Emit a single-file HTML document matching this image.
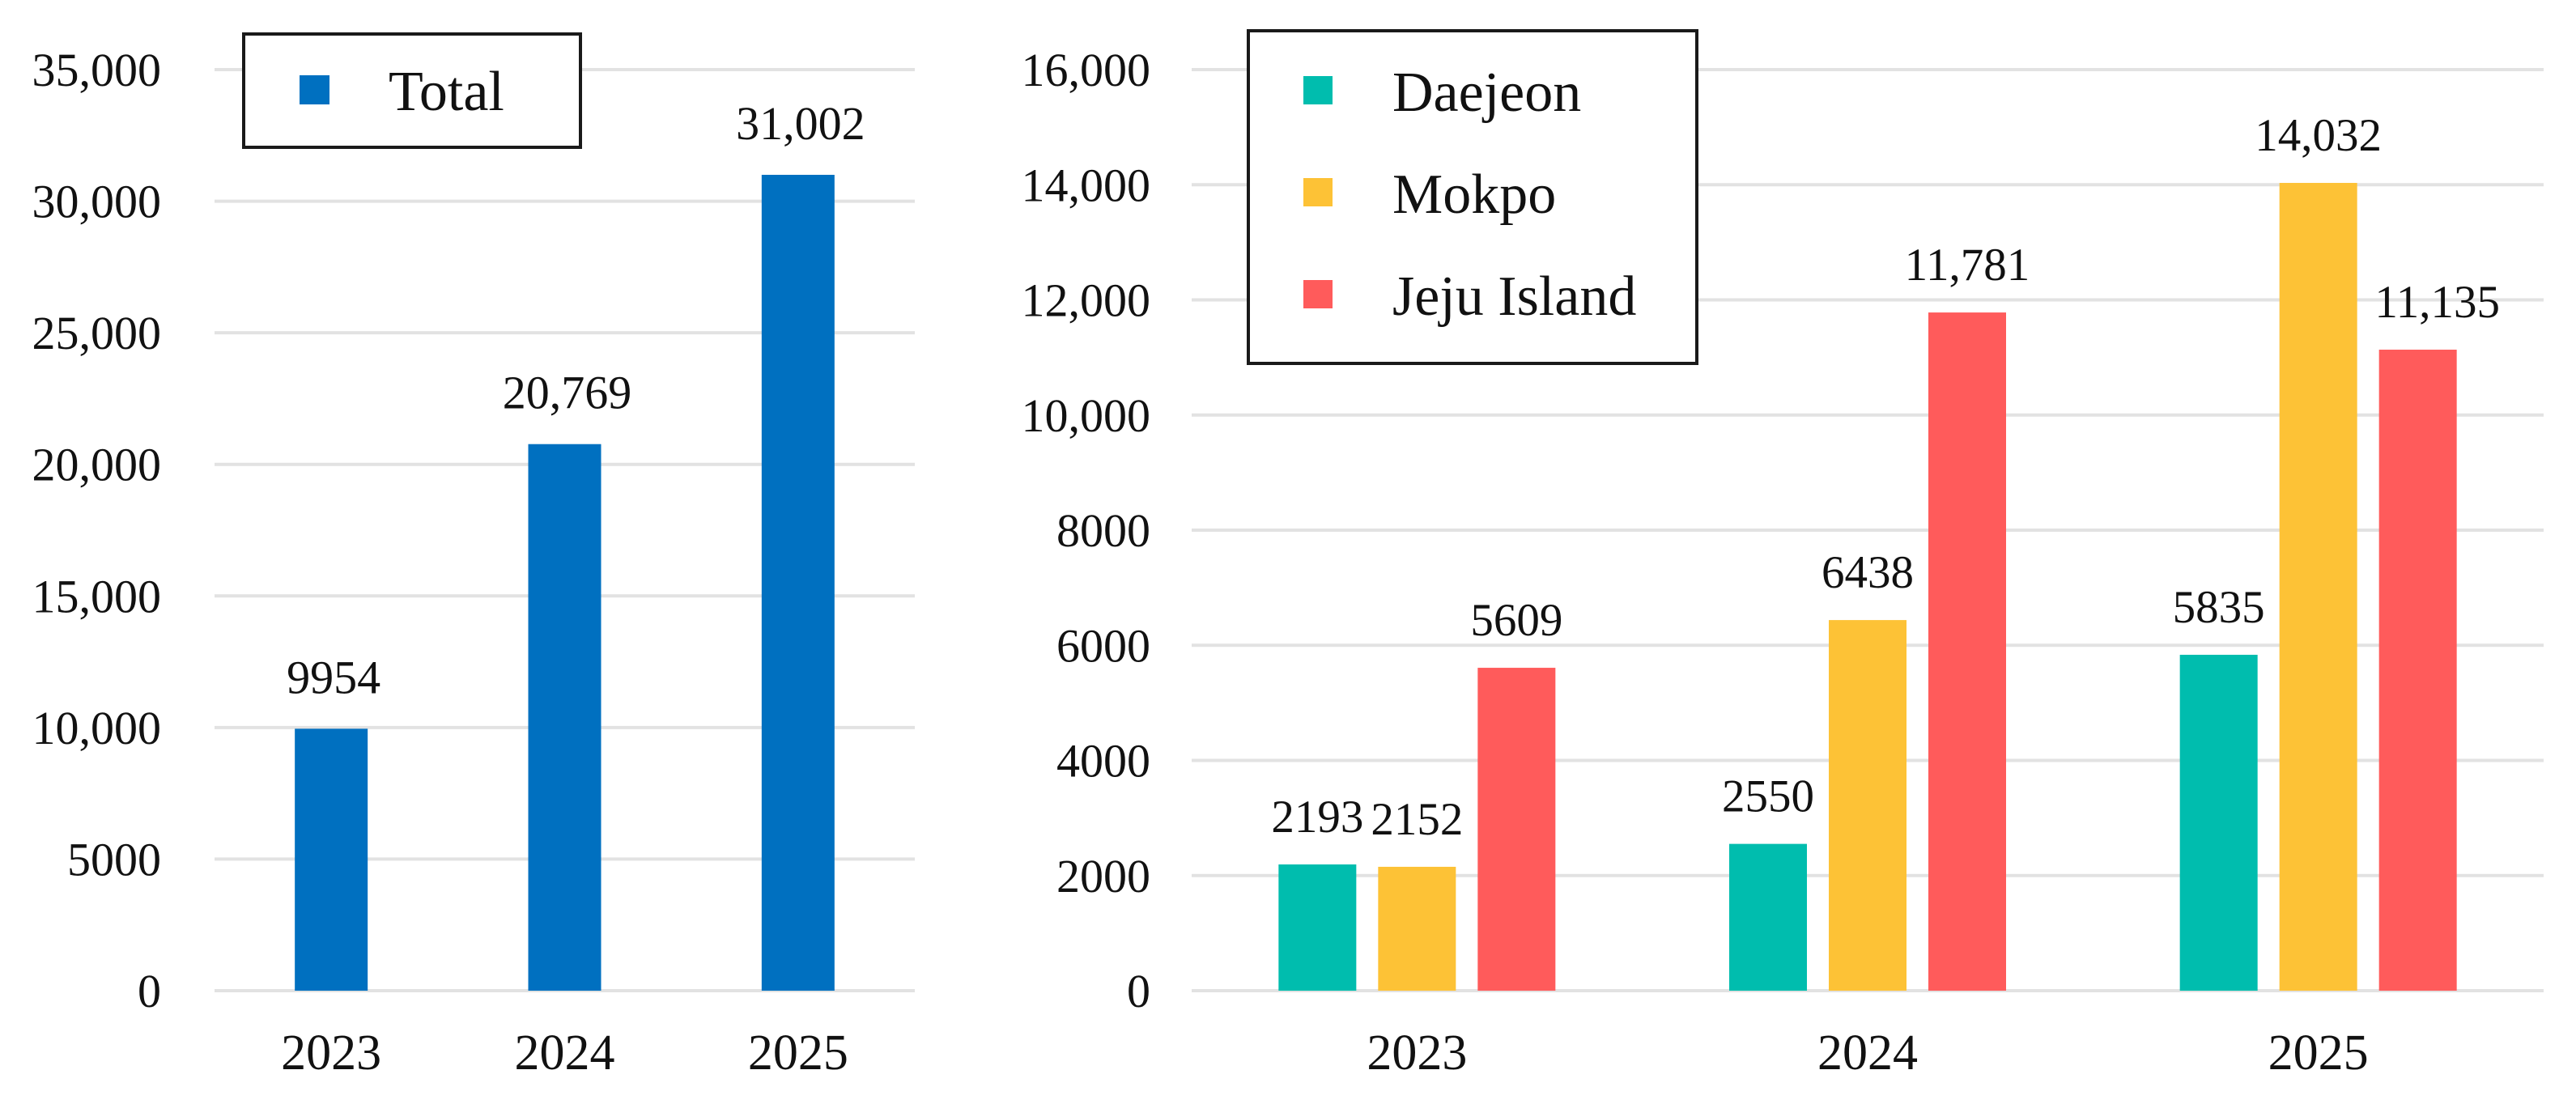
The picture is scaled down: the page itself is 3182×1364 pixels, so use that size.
<!DOCTYPE html>
<html><head><meta charset="utf-8"><style>
html,body{margin:0;padding:0;background:#fff}
svg{display:block}
text{font-family:"Liberation Serif",serif;fill:#111}
</style></head><body>
<svg id="chart" width="3182" height="1364" viewBox="0 0 3182 1364" xmlns="http://www.w3.org/2000/svg">
<g id="left"></g>
<g id="right"></g>
</svg>
<script>
const years = ["2023","2024","2025"];
const totalValues = [9954, 20769, 31002];
const totalLabels = ["9954","20,769","31,002"];
const leftTicks = [0,5000,10000,15000,20000,25000,30000,35000];
const leftTickLabels = ["0","5000","10,000","15,000","20,000","25,000","30,000","35,000"];
const seriesNames = ["Daejeon","Mokpo","Jeju Island"];
const daejeonValues = [2193, 2550, 5835];
const mokpoValues = [2152, 6438, 14032];
const jejuValues = [5609, 11781, 11135];
const daejeonLabels = ["2193","2550","5835"];
const mokpoLabels = ["2152","6438","14,032"];
const jejuLabels = ["5609","11,781","11,135"];
const rightTicks = [0,2000,4000,6000,8000,10000,12000,14000,16000];
const rightTickLabels = ["0","2000","4000","6000","8000","10,000","12,000","14,000","16,000"];

const NS="http://www.w3.org/2000/svg";
function mk(parent,tag,attrs,txt){const e=document.createElementNS(NS,tag);for(const k in attrs)e.setAttribute(k,attrs[k]);if(txt!==undefined)e.textContent=txt;parent.appendChild(e);return e;}

// left chart
const L=document.getElementById('left');
const lx0=265,lx1=1130,ly0=1224,ly1=86,lmax=35000;
const ly=v=>ly0-(v/lmax)*(ly0-ly1);
const lband=(lx1-lx0)/years.length;
const lcx=i=>lx0+lband*(i+0.5);
leftTicks.forEach((t,i)=>{
  const g=mk(L,'line',{x1:lx0,x2:lx1,y1:ly(t),y2:ly(t),stroke:'#e2e2e2','stroke-width':4});
  
  
  const tl=mk(L,'text',{x:199,y:ly(t)+20,'text-anchor':'end','font-size':58},leftTickLabels[i]);
  
  
});
years.forEach((y,i)=>{
  const b=mk(L,'rect',{x:lcx(i)-45,y:ly(totalValues[i]),width:90,height:ly0-ly(totalValues[i]),fill:'#0070C0'});
  
  
  const v=mk(L,'text',{x:lcx(i)+3,y:ly(totalValues[i])-44,'text-anchor':'middle','font-size':58},totalLabels[i]);
  
  
  const xl=mk(L,'text',{x:lcx(i),y:1321,'text-anchor':'middle','font-size':62},y);
  
  
});
const lg=mk(L,'g',{});


mk(lg,'rect',{x:301,y:42,width:416,height:140,fill:'#fff',stroke:'#1a1a1a','stroke-width':4});
mk(lg,'rect',{x:370,y:93,width:37,height:36,fill:'#0070C0'});
const lgt=mk(lg,'text',{x:480,y:136,'font-size':70},'Total');



// right chart
const R=document.getElementById('right');
const rx0=1472,rx1=3142,ry0=1224,ry1=86,rmax=16000;
const ry=v=>ry0-(v/rmax)*(ry0-ry1);
const rband=(rx1-rx0)/years.length;
const rcx=i=>rx0+rband*(i+0.5);
rightTicks.forEach((t,i)=>{
  const g=mk(R,'line',{x1:rx0,x2:rx1,y1:ry(t),y2:ry(t),stroke:'#e2e2e2','stroke-width':4});
  
  
  const tl=mk(R,'text',{x:1421,y:ry(t)+20,'text-anchor':'end','font-size':58},rightTickLabels[i]);
  
  
});
const series=[[daejeonValues,daejeonLabels,'#00BDAE','daejeon'],[mokpoValues,mokpoLabels,'#FDC236','mokpo'],[jejuValues,jejuLabels,'#FF5B5B','jeju']];
const bw=96,step=123;
years.forEach((y,i)=>{
  series.forEach((s,k)=>{
    const cx=rcx(i)+(k-1)*step;
    const v=s[0][i];
    const b=mk(R,'rect',{x:cx-bw/2,y:ry(v),width:bw,height:ry0-ry(v),fill:s[2]});
    
    
    const t=mk(R,'text',{x:cx+(s[1][i].length>4&&k==2&&i==2?24:0),y:ry(v)-40,'text-anchor':'middle','font-size':57},s[1][i]);
    
    
  });
  const xl=mk(R,'text',{x:rcx(i),y:1321,'text-anchor':'middle','font-size':62},y);
  
  
});
const rg=mk(R,'g',{});


mk(rg,'rect',{x:1542,y:38,width:554,height:411,fill:'#fff',stroke:'#1a1a1a','stroke-width':4});
const legY=[137,263,389];
seriesNames.forEach((n,k)=>{
  mk(rg,'rect',{x:1610,y:legY[k]-43,width:36,height:35,fill:series[k][2]});
  const t=mk(rg,'text',{x:1720,y:legY[k],'font-size':70},n);
  
  
});
</script>
</body></html>
